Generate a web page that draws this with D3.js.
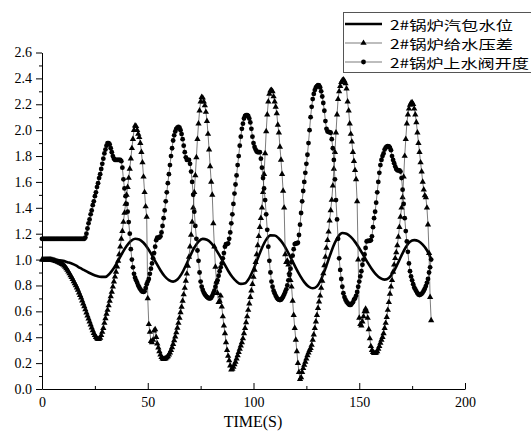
<!DOCTYPE html>
<html><head><meta charset="utf-8">
<script src="https://cdn.jsdelivr.net/npm/d3@7/dist/d3.min.js"></script>
<style>body{margin:0;background:#fff}</style>
</head><body><svg id="c" width="531" height="437"></svg>
<script>
const seriesNames = ["2#锅炉汽包水位", "2#锅炉给水压差", "2#锅炉上水阀开度"];
const xTitle = "TIME(S)";
const xTicks = [0, 50, 100, 150, 200];
const xMinor = [25, 75, 125, 175];
const yTicks = [0, 0.2, 0.4, 0.6, 0.8, 1.0, 1.2, 1.4, 1.6, 1.8, 2.0, 2.2, 2.4, 2.6];
const yMinor = [0.1, 0.3, 0.5, 0.7, 0.9, 1.1, 1.3, 1.5, 1.7, 1.9, 2.1, 2.3, 2.5];

// drum level, sampled every 2 s from t = 0
const levelStep = 2;
const level = [1.0,1.0,1.0,0.998,0.995,0.99,0.98,0.97,0.955,0.935,
0.918,0.9,0.885,0.873,0.866,0.866,0.892,0.935,0.991,1.051,
1.104,1.143,1.161,1.156,1.13,1.088,1.033,0.974,0.918,0.871,
0.841,0.83,0.846,0.89,0.954,1.026,1.092,1.139,1.16,1.153,
1.127,1.084,1.03,0.972,0.914,0.865,0.83,0.812,0.817,0.857,
0.925,1.008,1.09,1.154,1.187,1.186,1.163,1.122,1.066,1.002,
0.936,0.876,0.826,0.792,0.778,0.793,0.848,0.93,1.025,1.113,
1.177,1.205,1.199,1.175,1.137,1.088,1.032,0.976,0.925,0.883,
0.856,0.845,0.858,0.9,0.963,1.033,1.095,1.137,1.15,1.142,
1.115,1.072,1.005];

// feed-water pressure difference and valve opening, sampled every 0.5 s from t = 0
const markStep = 0.5;
const pressure = [
1.0,1.0,1.0,1.0,1.0,1.0,1.0,1.0,0.999,0.998,0.996,0.994,0.991,0.988,0.985,0.982,0.978,0.974,0.97,0.965,
0.96,0.952,0.943,0.932,0.92,0.906,0.892,0.878,0.863,0.848,0.832,0.815,0.8,0.783,0.765,0.745,0.725,0.705,0.683,0.66,
0.638,0.614,0.59,0.566,0.543,0.52,0.497,0.474,0.452,0.432,0.415,0.4,0.39,0.385,0.386,0.395,0.415,0.44,0.47,0.51,
0.545,0.58,0.61,0.645,0.68,0.715,0.75,0.79,0.83,0.867,0.905,0.945,0.99,1.04,1.1,1.16,1.22,1.29,1.36,1.43,
1.5,1.56,1.63,1.7,1.78,1.86,1.93,2.0,2.035,2.03,2.0,1.97,1.945,1.9,1.83,1.75,1.64,1.52,1.41,1.33,
0.7,0.5,0.44,0.37,0.36,0.38,0.45,0.46,0.4,0.35,0.32,0.29,0.265,0.245,0.235,0.23,0.232,0.236,0.243,0.252,
0.265,0.28,0.3,0.322,0.347,0.375,0.405,0.437,0.472,0.51,0.55,0.592,0.635,0.68,0.73,0.78,0.835,0.89,0.95,1.02,
1.1,1.19,1.29,1.4,1.52,1.65,1.79,1.93,2.05,2.15,2.22,2.255,2.25,2.22,2.19,2.14,2.07,1.97,1.85,1.72,
1.6,1.5,1.28,1.1,0.944,0.83,0.74,0.67,0.68,0.72,0.636,0.56,0.49,0.43,0.36,0.3,0.255,0.22,0.18,0.15,
0.155,0.17,0.19,0.21,0.235,0.26,0.285,0.31,0.335,0.36,0.39,0.43,0.47,0.515,0.56,0.61,0.66,0.71,0.76,0.81,
0.865,0.92,0.98,1.04,1.11,1.18,1.25,1.32,1.4,1.52,1.66,1.82,1.99,2.12,2.22,2.28,2.305,2.31,2.3,2.26,
2.22,2.18,2.13,2.04,1.98,1.87,1.77,1.66,1.53,1.4,1.04,0.98,0.99,0.96,0.9,0.84,0.79,0.68,0.57,0.47,
0.38,0.29,0.2,0.13,0.075,0.09,0.13,0.16,0.185,0.21,0.235,0.26,0.28,0.3,0.315,0.34,0.38,0.42,0.47,0.52,
0.57,0.625,0.675,0.72,0.78,0.835,0.893,0.955,1.02,1.09,1.15,1.215,1.3,1.38,1.46,1.57,1.7,1.83,1.98,2.12,
2.24,2.3,2.34,2.37,2.385,2.39,2.38,2.36,2.32,2.22,2.15,2.05,1.97,1.91,1.83,1.76,1.69,1.62,1.45,1.0,
0.55,0.5,0.49,0.52,0.56,0.6,0.62,0.6,0.55,0.46,0.39,0.33,0.3,0.285,0.277,0.276,0.28,0.29,0.31,0.33,
0.355,0.38,0.4,0.43,0.47,0.51,0.555,0.61,0.67,0.735,0.79,0.84,0.905,0.96,1.01,1.055,1.11,1.175,1.25,1.33,
1.4,1.48,1.64,1.8,1.93,2.05,2.12,2.165,2.195,2.21,2.215,2.2,2.165,2.12,2.06,1.98,1.9,1.83,1.75,1.68,
1.6,1.54,1.495,1.48,1.4,1.27,1.05,0.71,0.53];

const valve = [
1.16,1.16,1.16,1.16,1.16,1.16,1.16,1.16,1.16,1.16,1.16,1.16,1.16,1.16,1.16,1.16,1.16,1.16,1.16,1.16,
1.16,1.16,1.16,1.16,1.16,1.16,1.16,1.16,1.16,1.16,1.16,1.16,1.16,1.16,1.16,1.16,1.16,1.16,1.16,1.16,
1.16,1.17,1.2,1.24,1.28,1.31,1.35,1.38,1.42,1.45,1.49,1.52,1.56,1.59,1.63,1.66,1.7,1.74,1.78,1.82,
1.85,1.88,1.9,1.9,1.89,1.86,1.83,1.8,1.78,1.77,1.77,1.77,1.77,1.77,1.77,1.76,1.71,1.62,1.55,1.49,
1.43,1.37,1.29,1.2,1.08,1.0,0.94,0.89,0.86,0.84,0.82,0.8,0.785,0.77,0.76,0.752,0.75,0.755,0.78,0.81,
0.83,0.85,0.89,0.93,0.97,1.01,1.05,1.1,1.15,1.17,1.17,1.17,1.18,1.21,1.26,1.32,1.38,1.45,1.52,1.59,
1.66,1.73,1.8,1.86,1.92,1.96,1.99,2.01,2.02,2.025,2.02,2.0,1.97,1.93,1.88,1.83,1.79,1.77,1.77,1.77,
1.74,1.68,1.6,1.5,1.37,1.26,1.16,1.07,0.99,0.9,0.83,0.79,0.765,0.745,0.73,0.72,0.71,0.705,0.7,0.7,
0.705,0.72,0.74,0.76,0.79,0.82,0.84,0.875,0.91,0.94,0.97,1.01,1.05,1.1,1.12,1.12,1.125,1.16,1.21,1.28,
1.35,1.43,1.51,1.58,1.65,1.73,1.8,1.88,1.95,2.01,2.05,2.09,2.11,2.115,2.115,2.11,2.09,2.06,2.01,1.95,
1.9,1.87,1.85,1.835,1.83,1.83,1.83,1.78,1.71,1.63,1.55,1.46,1.35,1.23,1.1,0.99,0.9,0.83,0.79,0.76,
0.74,0.72,0.705,0.695,0.69,0.687,0.69,0.7,0.713,0.73,0.75,0.77,0.8,0.84,0.88,0.93,0.98,1.03,1.08,1.12,
1.125,1.125,1.13,1.19,1.27,1.36,1.45,1.53,1.6,1.67,1.74,1.81,1.9,2.0,2.1,2.18,2.24,2.28,2.31,2.33,
2.34,2.347,2.345,2.33,2.3,2.26,2.21,2.15,2.07,2.01,1.99,1.985,1.985,1.98,1.93,1.86,1.77,1.62,1.46,1.31,
1.16,1.01,0.92,0.85,0.79,0.74,0.71,0.69,0.675,0.665,0.655,0.65,0.65,0.66,0.67,0.69,0.7,0.72,0.75,0.79,
0.83,0.87,0.91,0.96,1.0,1.04,1.09,1.14,1.145,1.145,1.145,1.15,1.18,1.25,1.32,1.37,1.44,1.52,1.6,1.67,
1.73,1.77,1.8,1.82,1.85,1.865,1.873,1.876,1.875,1.865,1.845,1.8,1.77,1.745,1.72,1.7,1.69,1.69,1.69,1.68,
1.63,1.54,1.43,1.32,1.22,1.14,1.06,0.97,0.91,0.87,0.84,0.81,0.785,0.77,0.755,0.74,0.73,0.726,0.73,0.735,
0.745,0.76,0.775,0.795,0.82,0.85,0.9,0.94,1.0];

const svg = d3.select("#c");
const x = d3.scaleLinear().domain([0, 200]).range([42, 465]);
const y = d3.scaleLinear().domain([0, 2.6]).range([389, 52.5]);
const latin = "'Liberation Serif', 'DejaVu Serif', serif";
const cjk = "'Noto Sans CJK SC', sans-serif";

// axes
svg.append("g").attr("transform", "translate(42,0)")
  .call(d3.axisLeft(y).tickValues(yTicks).tickFormat(d3.format(".1f")).tickSizeInner(6).tickSizeOuter(0).tickPadding(4));
svg.append("g").attr("transform", "translate(42,0)")
  .call(d3.axisLeft(y).tickValues(yMinor).tickFormat("").tickSizeInner(3).tickSizeOuter(0))
  .call(g => g.select(".domain").remove());
svg.append("g").attr("transform", "translate(0,389)")
  .call(d3.axisBottom(x).tickValues(xTicks).tickFormat(d3.format("d")).tickSizeInner(-6).tickSizeOuter(0).tickPadding(8));
svg.append("g").attr("transform", "translate(0,389)")
  .call(d3.axisBottom(x).tickValues(xMinor).tickFormat("").tickSizeInner(-3).tickSizeOuter(0))
  .call(g => g.select(".domain").remove());
svg.selectAll(".tick text").attr("font-family", latin).attr("font-size", 14).attr("fill", "#000");
svg.selectAll(".domain, .tick line").attr("stroke", "#000").attr("stroke-width", 1);
svg.append("text").attr("x", 253).attr("y", 427).attr("text-anchor", "middle")
  .attr("font-family", latin).attr("font-size", 16).text(xTitle);

const tLevel = (d, i) => x(i * levelStep);
const tMark = (d, i) => x(i * markStep);

// series 1: drum level (thick line)
svg.append("path").datum(level)
  .attr("d", d3.line().x(tLevel).y(d => y(d)).curve(d3.curveMonotoneX))
  .attr("fill", "none").attr("stroke", "#000").attr("stroke-width", 2.6);

// series 2: pressure difference (thin line + triangles)
svg.append("path").datum(pressure)
  .attr("d", d3.line().x(tMark).y(d => y(d)))
  .attr("fill", "none").attr("stroke", "#444").attr("stroke-width", 0.7);
const tri = d3.symbol().type(d3.symbolTriangle).size(17);
svg.append("g").selectAll("path").data(pressure).join("path")
  .attr("transform", (d, i) => `translate(${tMark(d, i)},${y(d)})`)
  .attr("d", tri).attr("fill", "#000");

// series 3: valve opening (thin line + circles)
svg.append("path").datum(valve)
  .attr("d", d3.line().x(tMark).y(d => y(d)))
  .attr("fill", "none").attr("stroke", "#444").attr("stroke-width", 0.7);
svg.append("g").selectAll("circle").data(valve).join("circle")
  .attr("cx", tMark).attr("cy", d => y(d)).attr("r", 2.4).attr("fill", "#000");

// legend
const lg = svg.append("g");
lg.append("rect").attr("x", 343.5).attr("y", 12.5).attr("width", 200).attr("height", 60)
  .attr("fill", "#fff").attr("stroke", "#555").attr("stroke-width", 1);
const rows = [24, 43, 62];
const textWidths = [123, 123, 139];
seriesNames.forEach((name, i) => {
  lg.append("line").attr("x1", 345).attr("x2", 382).attr("y1", rows[i]).attr("y2", rows[i])
    .attr("stroke", i === 0 ? "#000" : "#444").attr("stroke-width", i === 0 ? 2.6 : 0.7);
  if (i === 1) lg.append("path").attr("transform", `translate(363.5,${rows[i]})`).attr("d", tri).attr("fill", "#000");
  if (i === 2) lg.append("circle").attr("cx", 363.5).attr("cy", rows[i]).attr("r", 2.4).attr("fill", "#000");
  lg.append("text").attr("x", 390).attr("y", rows[i] + 5.5).attr("font-family", cjk).attr("font-size", 13)
    .attr("textLength", textWidths[i]).attr("lengthAdjust", "spacingAndGlyphs")
    .attr("fill", "#000").text(name);
});
</script></body></html>
